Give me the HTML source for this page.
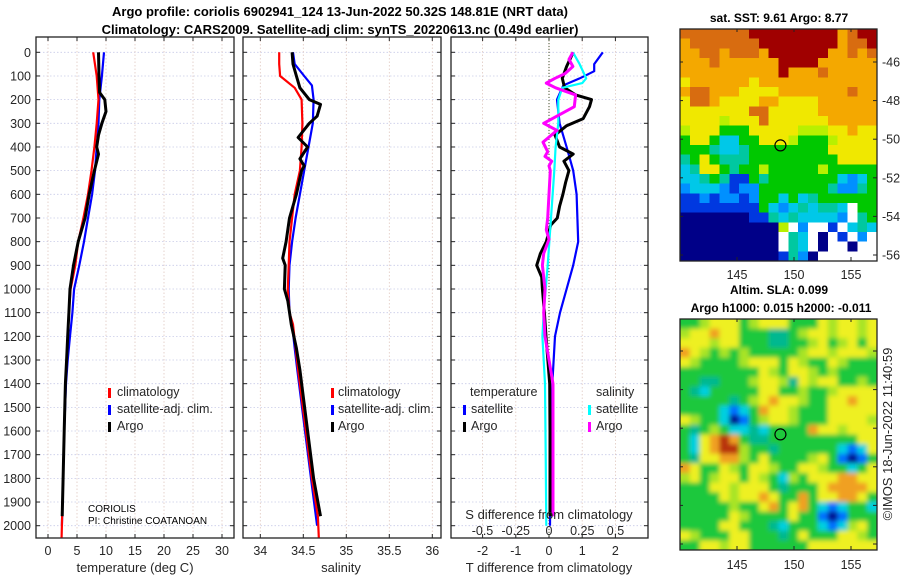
<!DOCTYPE html>
<html><head><meta charset="utf-8"><style>
body{margin:0;background:#fff}
svg{display:block;font-family:"Liberation Sans","DejaVu Sans",sans-serif}
</style></head><body>
<svg id="fig" width="900" height="580" viewBox="0 0 900 580" xmlns="http://www.w3.org/2000/svg">
<defs>
<clipPath id="c1"><rect x="36" y="37" width="198" height="501"/></clipPath>
<clipPath id="c2"><rect x="243" y="37" width="198" height="501"/></clipPath>
<clipPath id="c3"><rect x="451" y="37" width="197" height="501"/></clipPath>
<clipPath id="cm2"><rect x="680" y="319" width="197" height="231"/></clipPath>
<filter id="blur" filterUnits="userSpaceOnUse" x="660" y="300" width="240" height="270"><feGaussianBlur stdDeviation="2.5"/></filter>
</defs>
<text x="340" y="16" text-anchor="middle" font-size="13" font-weight="bold">Argo profile: coriolis 6902941_124 13-Jun-2022 50.32S 148.81E (NRT data)</text>
<text x="340" y="34" text-anchor="middle" font-size="13" font-weight="bold">Climatology: CARS2009. Satellite-adj clim: synTS_20220613.nc (0.49d earlier)</text>
<g id="g1"></g>
<g id="g2"></g>
<g id="g3"></g>
<g id="m1"></g>
<g id="m2"></g>
<text x="88" y="512" font-size="10">CORIOLIS</text>
<text x="88" y="524" font-size="10">PI: Christine COATANOAN</text>
<text x="779" y="22" text-anchor="middle" font-size="12" font-weight="bold">sat. SST: 9.61 Argo: 8.77</text>
<text x="779" y="294" text-anchor="middle" font-size="12" font-weight="bold">Altim. SLA: 0.099</text>
<text x="781" y="312" text-anchor="middle" font-size="12" font-weight="bold">Argo h1000: 0.015 h2000: -0.011</text>
<text transform="translate(892,434) rotate(-90)" text-anchor="middle" font-size="13" fill="#262626">©IMOS 18-Jun-2022 11:40:59</text>
</svg>
<script>
// ---- data ----
const depthTicks=[0,100,200,300,400,500,600,700,800,900,1000,1100,1200,1300,1400,1500,1600,1700,1800,1900,2000];
const tempTicks=[0,5,10,15,20,25,30];
const salTicks=[34,34.5,35,35.5,36];
const tdiffTicks=[-2,-1,0,1,2];
const sdiffTicks=[-0.5,-0.25,0,0.25,0.5];
const sdiffLabels=["-0.5","-0.25","0","0.25","0.5"];
const climTempDepth=[0,100,200,300,400,500,600,700,800,900,1000,1100,1200,1300,1400,1600,1800,2000,2050];
const climTemp=[7.8,8.4,8.7,8.4,8.0,7.5,6.9,6.1,5.2,4.7,3.9,3.6,3.4,3.2,3.0,2.8,2.6,2.4,2.35];
const satTempDepth=[0,100,200,300,400,500,600,700,800,900,1000,1100,1200,1300,1400,1600,1800,2000];
const satTemp=[9.65,9.3,8.85,8.7,8.4,8.1,7.6,6.9,6.2,5.4,4.5,4.2,3.8,3.4,3.1,2.8,2.6,2.4];
const argoTempDepth=[0,100,170,200,250,300,350,400,430,500,600,700,800,900,1000,1100,1200,1300,1400,1600,1800,1960];
const argoTemp=[8.7,8.8,8.9,9.8,10.0,9.3,8.7,8.4,8.7,8.0,7.1,6.4,5.2,4.4,3.8,3.6,3.4,3.2,3.0,2.8,2.6,2.45];
const climSalDepth=[0,50,100,150,200,300,400,500,600,700,800,900,1000,1100,1150,1250,1342,1600,1800,1962,2050];
const climSal=[34.22,34.22,34.23,34.40,34.48,34.49,34.48,34.46,34.40,34.37,34.34,34.33,34.32,34.34,34.38,34.41,34.44,34.53,34.60,34.67,34.68];
const satSalDepth=[0,50,100,140,200,300,400,500,600,700,800,900,1000,1100,1150,1250,1342,1600,1800,2000];
const satSal=[34.38,34.40,34.51,34.60,34.62,34.61,34.56,34.51,34.46,34.41,34.37,34.34,34.33,34.34,34.37,34.40,34.43,34.52,34.59,34.66];
const argoSalDepth=[0,50,100,150,200,220,270,300,360,400,450,480,500,600,700,800,870,900,1000,1050,1150,1250,1342,1600,1800,1960];
const argoSal=[34.37,34.38,34.42,34.46,34.57,34.70,34.66,34.57,34.44,34.55,34.46,34.51,34.48,34.42,34.34,34.30,34.26,34.29,34.28,34.32,34.36,34.42,34.46,34.55,34.62,34.70];
const satTdiffDepth=[0,50,80,110,140,200,300,400,500,600,800,900,1000,1100,1200,1400,1600,2000];
const satTdiff=[1.62,1.36,1.36,0.93,0.43,0.24,0.32,0.53,0.73,0.83,0.88,0.73,0.53,0.33,0.18,0.1,0.05,0.03];
const argoTdiffDepth=[0,60,110,150,180,200,230,280,310,350,400,430,460,500,550,600,650,700,730,800,850,900,950,1000,1100,1200,1400,1600,1800,1960];
const argoTdiff=[0.73,0.53,0.4,0.47,0.8,1.28,1.22,1.03,0.53,0.18,0.32,0.73,0.45,0.6,0.5,0.42,0.32,0.25,0.05,-0.08,-0.26,-0.37,-0.22,-0.2,-0.14,-0.09,0.02,0.03,0.03,0.03];
const satSdiffDepth=[0,50,110,130,150,200,300,400,500,700,900,1100,1200,1400,1700,2000];
const satSdiff=[0.18,0.23,0.28,0.25,0.10,0.07,0.07,0.05,0.04,0.015,-0.01,-0.04,-0.05,-0.03,-0.025,-0.02];
const argoSdiffDepth=[0,30,60,90,110,130,150,180,230,300,330,380,420,440,460,480,500,600,700,750,790,850,900,1000,1100,1200,1400,1600,1960];
const argoSdiff=[0.18,0.15,0.18,0.12,0.045,-0.02,0.05,0.2,0.19,-0.04,0.06,-0.045,-0.01,-0.03,0.02,0,0.01,0,-0.01,-0.02,0.0,-0.04,-0.05,-0.03,-0.04,-0.03,0.03,0.03,0.03];
const latTicks=[-46,-48,-50,-52,-54,-56];
const lonTicks=[145,150,155];
const sstGrid=[
"OOOOOOORRRRRRRRRoORR","oOOOOOOORRRRRRRRoOOR","ooOOoOOOoRRRRRRooOoO","oooOooooooRRRRoooooo",
"ooooooooooRoooOooooo","YooooooYoooooooooooo","oOOoooYYYYoooooooOoo","YOOoYYYYooYYYYoooooo",
"YYYYYYYOOYYYYYoooooo","YYYYyYYYOYYYYYYooooo","yYYYGGGYYYYYyyyYYoYY","GYYGCCGGYYYyGGGyYYYY",
"GGGgCCgGGGGGGGGYYYYY","gGYGgggGGGGGGGGGYYYY","CgYYGgGGyGGGGGyGGGGG","CCgGgBBGgGGGGGGGCLCG",
"LCCCLBLLGGGGGGGgLLgG","BBLBLLBLGGCGCgGGGGGG","BBBBBBBBGCLCgCggCWGG","NNNNNNNBBgCgCCCCLWgG",
"NNNNNNNNNNyWLWWBWCgC","NNNNNNNNNNWgCWNWBWLW","NNNNNNNNNNWgCWNWWNWW","NNNNNNNNNNBgLNWWWWWW"];
const slaGrid=[
"GGgYYYGgYYYGGGYgYYgY","gYYoYYGGGTTGgYYgYYgY","YYYgYYGGGTTGGgYGgYGY","oYgGgGgGGGGGgYYgYYYg",
"YgGGGGgYYYGYgGGYgGGG","GGGGGGGGYgGYYgGgGGGG","GGTTGGGgYYgTYgYYGGgG","GTCGGGGGYYGGgGGgYYYY",
"GGGGGTGgYoYYgGGYYoYY","GGGGCLCGoYYgGGGYYYYY","YgGGCNLGgYYgGGGYYYYg","GTGgGCCTCGGGGoYYgYYY",
"GCYoRoGTTGGGGGGGGGYY","GCYoRRgGGTGGGGGGCLCY","GTYYoogGYGGGGgYGLNLG","oYGGYgGYYgGGYYgGGCGY",
"gYGgYYGYgGCgGYYYooYY","GGGYYgYYYGTGGGYooooY","GGGGYgYYoYGGoGYYooYG","GGGGGgGGYoGYoGCLCGGC",
"GGGGGYgGGGGYGGLNLGGG","GGGGYYGGGTCGGGCLCgYG","YgGGGYYGGGTGYGGGYYgG","GGYYgYYGGGGGGYYYYYYY"];
const argoLon=148.81, argoLat=-50.32;

// ---- helpers ----
const NS="http://www.w3.org/2000/svg";
function mk(tag,parent,attrs){const e=document.createElementNS(NS,tag);for(const k in attrs)e.setAttribute(k,attrs[k]);parent.appendChild(e);return e;}
const yD=d=>52.3+d*0.2367;
const xT=t=>48+t*5.8;
const xS=s=>260.3+(s-34)*86;
const xTd=t=>549+t*33.2;
const xSd=s=>549+s*133;
const PB=538, PT=37;

function panel(g,x0,x1,vt,xf){
  depthTicks.forEach(d=>{const l=mk('line',g,{x1:x0,x2:x1,y1:yD(d),y2:yD(d),stroke:'#c9cbe8','stroke-width':0.8,'stroke-dasharray':'1.5,2'});
  
  mk('line',g,{x1:x0,x2:x0+4,y1:yD(d),y2:yD(d),stroke:'#222'});mk('line',g,{x1:x1-4,x2:x1,y1:yD(d),y2:yD(d),stroke:'#222'});});
  vt.forEach(v=>{const l=mk('line',g,{x1:xf(v),x2:xf(v),y1:PT,y2:PB,stroke:'#e0c8c0','stroke-width':0.8,'stroke-dasharray':'1.5,2'});
  
  mk('line',g,{x1:xf(v),x2:xf(v),y1:PT,y2:PT+4,stroke:'#222'});mk('line',g,{x1:xf(v),x2:xf(v),y1:PB-4,y2:PB,stroke:'#222'});});
  const f=mk('rect',g,{x:x0,y:PT,width:x1-x0,height:PB-PT,fill:'none',stroke:'#222','stroke-width':1.3});
  
}
function line(g,ds,vs,xf,color,w,name,clip){
  const p=ds.map((d,i)=>(i?'L':'M')+xf(vs[i]).toFixed(1)+','+yD(d).toFixed(1)).join('');
  const e=mk('path',g,{d:p,fill:'none',stroke:color,'stroke-width':w,'stroke-linejoin':'round','clip-path':'url(#'+clip+')'});
  
}
function txt(g,x,y,s,attrs,name){const t=mk('text',g,Object.assign({x:x,y:y,'font-size':12.5,fill:'#262626'},attrs||{}));t.textContent=s;
  return t;}
function legendMark(g,x,y,c,name){const r=mk('rect',g,{x:x,y:y-9,width:3,height:10,fill:c});}

// ---- panel 1 ----
const g1=document.getElementById('g1');
panel(g1,36,234,tempTicks,xT);
depthTicks.forEach(d=>txt(g1,31,yD(d)+4.5,String(d),{'text-anchor':'end'},'depth-tick-label'));
tempTicks.forEach(t=>txt(g1,xT(t),555,String(t),{'text-anchor':'middle'},'temperature-tick-label'));
txt(g1,135,572,'temperature (deg C)',{'text-anchor':'middle','font-size':13},'temperature-axis-title');
line(g1,satTempDepth,satTemp,xT,'#0000ff',2.2,'temp-satellite-line','c1');
line(g1,climTempDepth,climTemp,xT,'#ff0000',2.2,'temp-climatology-line','c1');
line(g1,argoTempDepth,argoTemp,xT,'#000',3,'temp-argo-line','c1');
legendMark(g1,108,397,'#ff0000','legend-climatology-mark');txt(g1,117,396,'climatology',{},'legend-climatology');
legendMark(g1,108,414,'#0000ff','legend-satellite-mark');txt(g1,117,413,'satellite-adj. clim.',{},'legend-satellite');
legendMark(g1,108,431,'#000','legend-argo-mark');txt(g1,117,430,'Argo',{},'legend-argo');

// ---- panel 2 ----
const g2=document.getElementById('g2');
panel(g2,243,441,salTicks,xS);
salTicks.forEach(s=>txt(g2,xS(s),555,String(s),{'text-anchor':'middle'},'salinity-tick-label'));
txt(g2,341,572,'salinity',{'text-anchor':'middle','font-size':13},'salinity-axis-title');
line(g2,satSalDepth,satSal,xS,'#0000ff',2.2,'sal-satellite-line','c2');
line(g2,climSalDepth,climSal,xS,'#ff0000',2.2,'sal-climatology-line','c2');
line(g2,argoSalDepth,argoSal,xS,'#000',3,'sal-argo-line','c2');
legendMark(g2,331,397,'#ff0000','legend-climatology-mark');txt(g2,338,396,'climatology',{},'legend-climatology');
legendMark(g2,331,414,'#0000ff','legend-satellite-mark');txt(g2,338,413,'satellite-adj. clim.',{},'legend-satellite');
legendMark(g2,331,431,'#000','legend-argo-mark');txt(g2,338,430,'Argo',{},'legend-argo');

// ---- panel 3 ----
const g3=document.getElementById('g3');
panel(g3,451,648,tdiffTicks,xTd);
const z=mk('line',g3,{x1:549,x2:549,y1:PT,y2:PB,stroke:'#445533','stroke-width':1,'stroke-dasharray':'1,2'});

tdiffTicks.forEach(t=>txt(g3,xTd(t),555,String(t),{'text-anchor':'middle'},'tdiff-tick-label'));
txt(g3,549,572,'T difference from climatology',{'text-anchor':'middle','font-size':13},'tdiff-axis-title');
line(g3,satTdiffDepth,satTdiff,xTd,'#0000ff',2.2,'tdiff-satellite-line','c3');
line(g3,argoTdiffDepth,argoTdiff,xTd,'#000',3,'tdiff-argo-line','c3');
line(g3,satSdiffDepth,satSdiff,xSd,'#00ffff',2.2,'sdiff-satellite-line','c3');
line(g3,argoSdiffDepth,argoSdiff,xSd,'#ff00ff',3,'sdiff-argo-line','c3');
txt(g3,549,519,'S difference from climatology',{'text-anchor':'middle','font-size':13},'sdiff-axis-title');
sdiffTicks.forEach((s,i)=>txt(g3,xSd(s),535,sdiffLabels[i],{'text-anchor':'middle'},'sdiff-tick-label'));
txt(g3,470,396,'temperature',{},'legend-temperature-header');
legendMark(g3,463,414,'#0000ff','legend-tsat-mark');txt(g3,471,413,'satellite',{},'legend-t-satellite');
legendMark(g3,463,431,'#000','legend-targo-mark');txt(g3,471,430,'Argo',{},'legend-t-argo');
txt(g3,596,396,'salinity',{},'legend-salinity-header');
legendMark(g3,588,414,'#00ffff','legend-ssat-mark');txt(g3,596,413,'satellite',{},'legend-s-satellite');
legendMark(g3,588,431,'#ff00ff','legend-sargo-mark');txt(g3,596,430,'Argo',{},'legend-s-argo');

// ---- maps ----
const sstCol={R:'#a00000',O:'#d86c10',o:'#f4a800',Y:'#f0e800',y:'#b8f000',G:'#00c800',g:'#00c8a0',C:'#00c8e8',L:'#0090ff',B:'#0038e0',N:'#000088',W:'#ffffff'};
const slaCol={G:'#1ec83c',g:'#a8e428',Y:'#eef020',o:'#f0a020',R:'#b83010',T:'#00b890',C:'#00d0e0',L:'#0070ff',N:'#001090'};
function map(id,grid,cols,x0,y0,w,h,yLat,yLon,fillC,blur){
  const g=document.getElementById(id);
  const outer=blur?mk('g',g,{'clip-path':'url(#cm2)'}):g;
  const inner=mk('g',outer,blur?{filter:'url(#blur)'}:{'shape-rendering':'crispEdges'});
  const nr=grid.length,nc=grid[0].length,cw=w/nc,ch=h/nr;
  grid.forEach((row,r)=>{for(let c=0;c<nc;c++){
    const ex=blur&&c==0?10:0, ey=blur&&r==0?10:0;
    const e=mk('rect',inner,{x:(x0+c*cw-ex).toFixed(2),y:(y0+r*ch-ey).toFixed(2),width:(cw+0.6+ex+(blur&&c==nc-1?10:0)).toFixed(2),height:(ch+0.6+ey+(blur&&r==nr-1?10:0)).toFixed(2),fill:cols[row[c]]});
    }});
  const lonX=l=>x0+(l-140)*11.4;
  const latY=la=>yLat+(-46-la)*19.3;
  const c=mk('circle',g,{cx:lonX(argoLon),cy:latY(argoLat),r:5.5,fill:fillC,stroke:'#000','stroke-width':1.2});
  
  const f=mk('rect',g,{x:x0,y:y0,width:w,height:h,fill:'none',stroke:'#222','stroke-width':1.3});
  
  latTicks.forEach(la=>{mk('line',g,{x1:x0+w-4,x2:x0+w,y1:latY(la),y2:latY(la),stroke:'#222'});mk('line',g,{x1:x0,x2:x0+3,y1:latY(la),y2:latY(la),stroke:'#222'});
    if(!blur)txt(g,882,latY(la)+4.5,String(la),{},'latitude-tick-label');});
  lonTicks.forEach(l=>{mk('line',g,{x1:lonX(l),x2:lonX(l),y1:y0+h-4,y2:y0+h,stroke:'#222'});mk('line',g,{x1:lonX(l),x2:lonX(l),y1:y0,y2:y0+3,stroke:'#222'});
    txt(g,lonX(l),yLon,String(l),{'text-anchor':'middle'},'longitude-tick-label');});
}
map('m1',sstGrid,sstCol,680,29,197,232,62,279,'none',false);
map('m2',slaGrid,slaCol,680,319,197,231,351,569,'#1ec83c',true);
</script>
</body></html>
